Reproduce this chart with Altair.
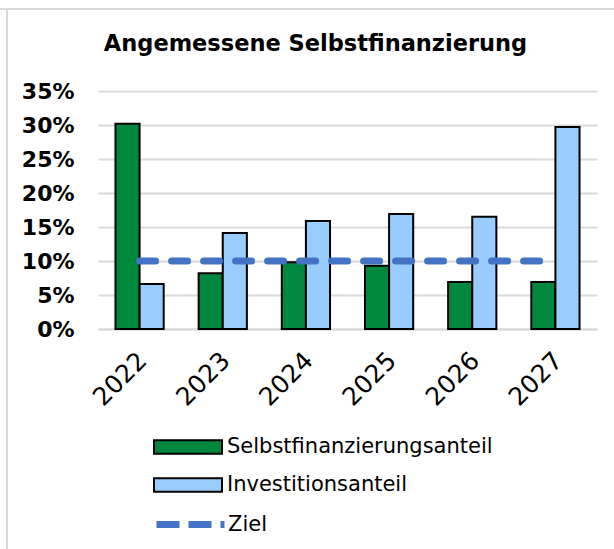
import altair as alt
import pandas as pd

years = ["2022", "2023", "2024", "2025", "2026", "2027"]
selbst = [0.302, 0.082, 0.098, 0.093, 0.069, 0.069]
invest = [0.066, 0.141, 0.159, 0.169, 0.165, 0.297]
ziel = [0.10, 0.10, 0.10, 0.10, 0.10, 0.10]
bar_series = ["Selbstfinanzierungsanteil", "Investitionsanteil"]
line_series = ["Ziel"]
bar_colors = ["#00893E", "#99CCFF"]
line_colors = ["#4472C4"]
title = "Angemessene Selbstfinanzierung"
y_ticks = [0, 0.05, 0.10, 0.15, 0.20, 0.25, 0.30, 0.35]

FONT = "DejaVu Sans"

bars_df = pd.DataFrame(
    [{"Jahr": y, "Serie": bar_series[0], "Wert": v} for y, v in zip(years, selbst)]
    + [{"Jahr": y, "Serie": bar_series[1], "Wert": v} for y, v in zip(years, invest)]
)
line_df = pd.DataFrame({"Jahr": years, "Serie": line_series[0], "Wert": ziel})

rect_path = "M-1,-0.4H3V0.4H-1Z"
line_path = "M-1,0H3"

bar_legend = alt.Legend(
    title=None,
    orient="none",
    legendX=55,
    legendY=338,
    direction="vertical",
    labelFont=FONT,
    labelFontSize=21,
    labelColor="#000000",
    labelOffset=38,
    labelLimit=0,
    symbolType=rect_path,
    symbolSize=1156,
    symbolStrokeColor="#000000",
    symbolStrokeWidth=2,
    symbolOpacity=1,
    rowPadding=9,
)

line_legend = alt.Legend(
    title=None,
    orient="none",
    legendX=55,
    legendY=413,
    direction="vertical",
    labelFont=FONT,
    labelFontSize=21,
    labelColor="#000000",
    labelOffset=34,
    labelLimit=0,
    symbolType=line_path,
    symbolSize=1156,
    symbolStrokeWidth=7,
    symbolDash=[23, 9],
    symbolOpacity=1,
)

x_axis = alt.Axis(
    labelAngle=-45,
    labelAlign="right",
    labelBaseline="middle",
    labelFont=FONT,
    labelFontSize=25,
    labelColor="#000000",
    labelPadding=27,
    labelOffset=3,
    ticks=False,
    domain=True,
    domainColor="#D9D9D9",
    domainWidth=2,
    grid=False,
)

y_axis = alt.Axis(
    values=y_ticks,
    format=".0%",
    labelFont=FONT,
    labelFontSize=22,
    labelFontWeight="bold",
    labelColor="#000000",
    labelPadding=24,
    labelOverlap=False,
    ticks=False,
    domain=False,
    grid=True,
    gridColor="#D9D9D9",
    gridWidth=2,
)

x_scale = alt.Scale(paddingInner=0.42, paddingOuter=0.21)
y_scale = alt.Scale(domain=[0, 0.35], nice=False)

bars = alt.Chart(bars_df).mark_bar(stroke="#000000", strokeWidth=2, opacity=1).encode(
    x=alt.X("Jahr:N", sort=years, title=None, scale=x_scale, axis=x_axis),
    xOffset=alt.XOffset("Serie:N", sort=bar_series, scale=alt.Scale(paddingInner=0)),
    y=alt.Y("Wert:Q", title=None, scale=y_scale, axis=y_axis),
    color=alt.Color(
        "Serie:N",
        sort=bar_series,
        scale=alt.Scale(domain=bar_series, range=bar_colors),
        legend=bar_legend,
    ),
)

line = alt.Chart(line_df).mark_line(
    strokeWidth=7, strokeDash=[16, 16], strokeCap="round"
).encode(
    x=alt.X("Jahr:N", sort=years, title=None, scale=x_scale, axis=x_axis),
    y=alt.Y("Wert:Q", title=None, scale=y_scale, axis=y_axis),
    stroke=alt.Stroke(
        "Serie:N",
        scale=alt.Scale(domain=line_series, range=line_colors),
        legend=line_legend,
    ),
)

frame_df = pd.DataFrame({"f": [0]})
frame_top = alt.Chart(frame_df).mark_rule(color="#D9D9D9", strokeWidth=2).encode(
    x=alt.value(-98), x2=alt.value(517), y=alt.value(-82)
)
frame_left = alt.Chart(frame_df).mark_rule(color="#D9D9D9", strokeWidth=2).encode(
    x=alt.value(-91), y=alt.value(-82), y2=alt.value(458)
)

chart = (
    alt.layer(frame_top, frame_left, bars, line)
    .resolve_scale(color="independent", stroke="independent")
    .properties(
        width=499,
        height=238,
        padding={"left": 98, "top": 91, "right": 17, "bottom": 220},
        autosize=alt.AutoSizeParams(type="none"),
        title=alt.TitleParams(
            text=title,
            font=FONT,
            fontSize=22.5,
            fontWeight="bold",
            color="#000000",
            anchor="middle",
            dx=-32,
            offset=0,
            dy=47,
        ),
    )
    .configure_view(stroke=None)
)

chart.save("out.html", embed_options={"renderer": "svg", "actions": False})
